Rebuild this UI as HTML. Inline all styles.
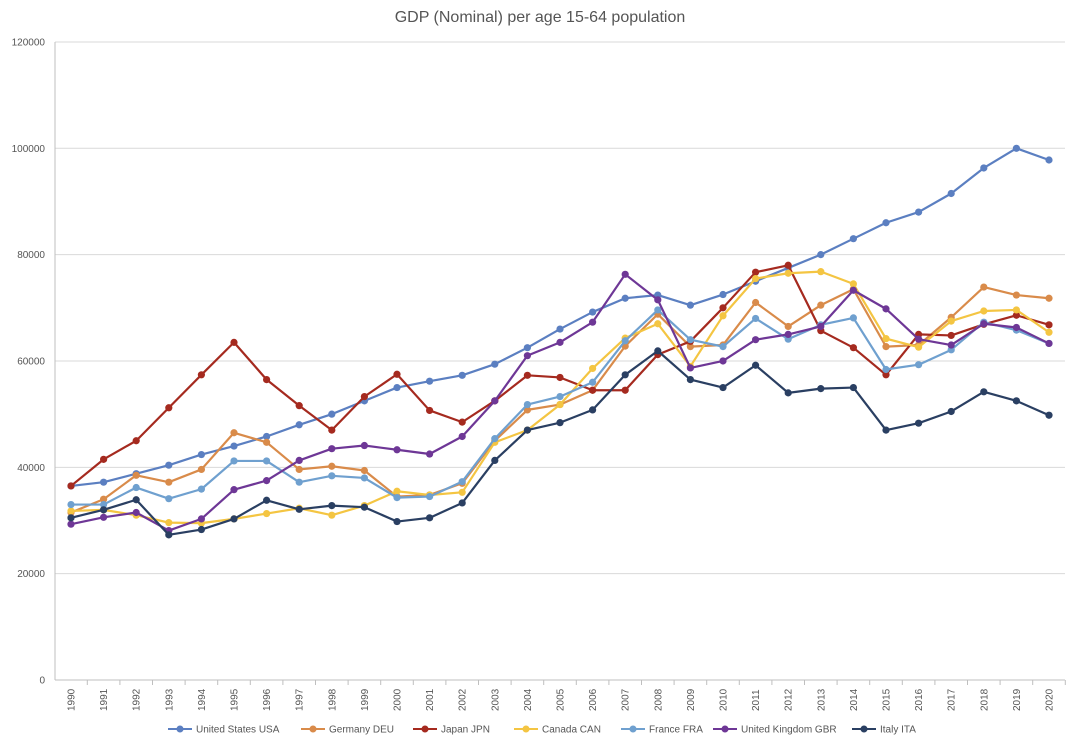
<!DOCTYPE html>
<html><head><meta charset="utf-8"><style>
html,body{margin:0;padding:0;background:#fff;}
svg{display:block;font-family:"Liberation Sans",sans-serif;}
</style></head><body>
<svg id="c" width="1079" height="747" viewBox="0 0 1079 747" xmlns="http://www.w3.org/2000/svg">
<rect width="1079" height="747" fill="#fff"/>
<text x="540" y="22" text-anchor="middle" font-size="16" fill="#555">GDP (Nominal) per age 15-64 population</text>
<g id="grid"></g><g id="series"></g><g id="legend"></g>
</svg>
<script>
const NS="http://www.w3.org/2000/svg";
function el(t,a,p,txt){const e=document.createElementNS(NS,t);for(const k in a)e.setAttribute(k,a[k]);if(txt!==undefined)e.textContent=txt;p.appendChild(e);return e;}
const Y=v=>680-v*0.005317, X=i=>71+i*32.6;
const g=document.getElementById('grid');
for(let v=0;v<=120000;v+=20000){
  if(v>0)el('line',{x1:55,x2:1065,y1:Y(v),y2:Y(v),stroke:'#d9d9d9','stroke-width':1},g);
  el('text',{x:45,y:Y(v)+3.5,'text-anchor':'end','font-size':10,fill:'#555'},g,String(v));
}
el('line',{x1:55,x2:55,y1:42,y2:680,stroke:'#bfbfbf'},g);
el('line',{x1:55,x2:1065,y1:680,y2:680,stroke:'#bfbfbf'},g);
for(let i=0;i<31;i++){
  const x=X(i);
  el('line',{x1:x+16.3,x2:x+16.3,y1:680,y2:685,stroke:'#bfbfbf'},g);
  el('text',{x:0,y:0,transform:`translate(${x+3.5},711) rotate(-90)`,'font-size':10,fill:'#555'},g,String(1990+i));
}
const S=[
["United States USA","#5b7fc1",[36500,37200,38800,40400,42400,44000,45800,48000,50000,52500,55000,56200,57300,59400,62500,66000,69200,71800,72400,70500,72500,75000,77500,80000,83000,86000,88000,91500,96300,100000,97800]],
["Germany DEU","#d98b4a",[31500,34000,38500,37200,39600,46500,44700,39600,40200,39400,34500,34800,37000,45000,50800,51800,54500,62800,68800,62700,63000,71000,66500,70500,73500,62700,63000,68200,73900,72400,71800]],
["Japan JPN","#a52a1f",[36500,41500,45000,51200,57400,63500,56500,51600,47000,53300,57500,50700,48500,52500,57300,56900,54500,54500,61200,63700,70000,76700,78000,65700,62500,57400,65000,64800,66900,68600,66800]],
["Canada CAN","#f4c542",[31800,32000,31000,29600,29500,30300,31300,32300,31000,32800,35500,34800,35300,44700,47000,51800,58600,64300,67000,59000,68500,75500,76500,76800,74500,64200,62600,67500,69400,69600,65400]],
["France FRA","#6fa0cf",[33000,33000,36200,34100,35900,41200,41200,37200,38400,38000,34300,34500,37300,45400,51800,53300,56000,63800,69600,64000,62700,68000,64100,66800,68100,58400,59300,62100,67300,65800,63300]],
["United Kingdom GBR","#6e3796",[29300,30600,31500,28100,30300,35800,37500,41300,43500,44100,43300,42500,45800,52500,61000,63500,67300,76300,71500,58700,60000,64000,65000,66500,73300,69800,64100,63000,67000,66300,63300]],
["Italy ITA","#2a3f62",[30500,32000,33900,27300,28300,30300,33800,32100,32800,32500,29800,30500,33300,41300,47000,48400,50800,57400,61900,56500,55000,59200,54000,54800,55000,47000,48300,50500,54200,52500,49800]]
];
const sg=document.getElementById('series');
S.forEach(([n,c,d])=>{
  el('polyline',{points:d.map((v,i)=>X(i)+','+Y(v)).join(' '),fill:'none',stroke:c,'stroke-width':2.2,'stroke-linejoin':'round'},sg);
  d.forEach((v,i)=>el('circle',{cx:X(i),cy:Y(v),r:3.6,fill:c},sg));
});
const lg=document.getElementById('legend');
const lx=[168,301,413,514,621,713,852];
S.forEach(([n,c],k)=>{
  const x=lx[k];
  el('line',{x1:x,x2:x+24,y1:729,y2:729,stroke:c,'stroke-width':2},lg);
  el('circle',{cx:x+12,cy:729,r:3.5,fill:c},lg);
  el('text',{x:x+28,y:732.5,'font-size':10,fill:'#555'},lg,n);
});
</script>
</body></html>
